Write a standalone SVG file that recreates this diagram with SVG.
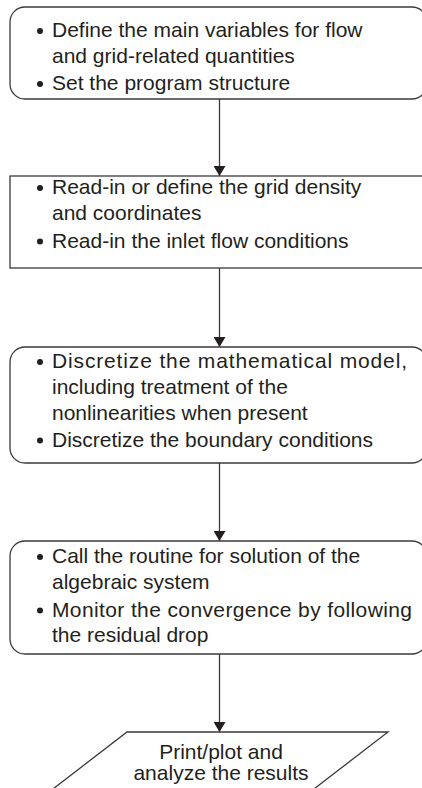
<svg xmlns="http://www.w3.org/2000/svg" width="422" height="788" viewBox="0 0 422 788">
  <style>
    .box { fill: #ffffff; stroke: #3a3a3a; stroke-width: 1.3; }
    .edge { fill: none; stroke: #3a3a3a; stroke-width: 1.3; }
    .txt { font-family: "Liberation Sans", Arial, sans-serif; font-size: 21px; fill: #231f20; }
    .dot { fill: #231f20; }
  </style>
  <defs>
    <marker id="arrow" markerUnits="userSpaceOnUse" markerWidth="14" markerHeight="12" refX="10" refY="6" orient="auto">
      <path d="M0,0 L10,6 L0,12 Z" fill="#231f20"/>
    </marker>
  </defs>
  <rect width="422" height="788" fill="#ffffff"/>

  <g id="connectors">
    <line class="edge" x1="219.5" y1="99" x2="219.5" y2="176" marker-end="url(#arrow)"/>
    <line class="edge" x1="219.5" y1="268" x2="219.5" y2="347" marker-end="url(#arrow)"/>
    <line class="edge" x1="219.5" y1="463" x2="219.5" y2="541" marker-end="url(#arrow)"/>
    <line class="edge" x1="219.5" y1="654" x2="219.5" y2="732" marker-end="url(#arrow)"/>
  </g>

  <g id="setup">
    <rect class="box" x="10" y="7" width="417" height="92" rx="15" ry="15"/>
    <circle class="dot" cx="40" cy="31" r="3"/>
    <text class="txt" x="52" y="37">Define the main variables for flow</text>
    <text class="txt" x="52" y="63">and grid-related quantities</text>
    <circle class="dot" cx="40" cy="84" r="3"/>
    <text class="txt" x="52" y="90">Set the program structure</text>
  </g>

  <g id="grid">
    <rect class="box" x="10" y="176" width="417" height="92"/>
    <circle class="dot" cx="40" cy="188" r="3"/>
    <text class="txt" x="52" y="194">Read-in or define the grid density</text>
    <text class="txt" x="52" y="220">and coordinates</text>
    <circle class="dot" cx="40" cy="241.5" r="3"/>
    <text class="txt" x="52" y="247.5">Read-in the inlet flow conditions</text>
  </g>

  <g id="discretize">
    <rect class="box" x="10" y="347" width="417" height="116" rx="15" ry="15"/>
    <circle class="dot" cx="40" cy="362" r="3"/>
    <text class="txt" x="52" y="368" textLength="355" lengthAdjust="spacing">Discretize the mathematical model,</text>
    <text class="txt" x="52" y="394">including treatment of the</text>
    <text class="txt" x="52" y="420">nonlinearities when present</text>
    <circle class="dot" cx="40" cy="440.5" r="3"/>
    <text class="txt" x="52" y="446.5">Discretize the boundary conditions</text>
  </g>

  <g id="solve">
    <rect class="box" x="10" y="541" width="417" height="113" rx="15" ry="15"/>
    <circle class="dot" cx="40" cy="557" r="3"/>
    <text class="txt" x="52" y="563">Call the routine for solution of the</text>
    <text class="txt" x="52" y="589">algebraic system</text>
    <circle class="dot" cx="40" cy="610.5" r="3"/>
    <text class="txt" x="52" y="616.5" textLength="360" lengthAdjust="spacing">Monitor the convergence by following</text>
    <text class="txt" x="52" y="642">the residual drop</text>
  </g>

  <g id="output">
    <polygon class="box" points="127,732 388,732 310,792 49,792"/>
    <text class="txt" x="221" y="759" text-anchor="middle">Print/plot and</text>
    <text class="txt" x="221" y="780" text-anchor="middle">analyze the results</text>
  </g>
</svg>
